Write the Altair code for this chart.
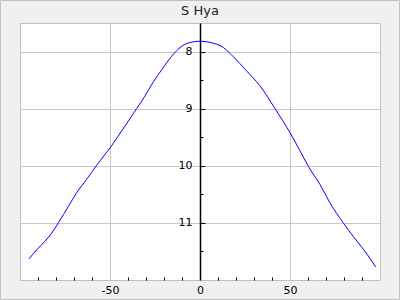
import altair as alt
import pandas as pd

# Light-curve data (phase offset vs magnitude)
phase = [-95, -90.7, -86.1, -82.4, -78.7, -73.1, -68.5, -63, -57.4, -49.6,
         -43.5, -35.2, -30.6, -25.9, -21.3, -15.7, -11.1, -6.5, 0,
         5.6, 13, 18.5, 25.9, 33.3, 41.7, 50, 55.6, 60.2, 66.7, 72.2, 79.6,
         85.2, 91.7, 97.6]
mag = [11.63, 11.47, 11.32, 11.18, 11.00, 10.71, 10.47, 10.24, 9.99, 9.67,
       9.39, 9.00, 8.78, 8.53, 8.32, 8.08, 7.93, 7.85, 7.82,
       7.84, 7.93, 8.09, 8.34, 8.60, 9.00, 9.42, 9.74, 10.01, 10.33, 10.65,
       11.00, 11.24, 11.50, 11.77]

x_major = [-50, 0, 50]
x_minor = [-90, -80, -70, -60, -40, -30, -20, -10, 10, 20, 30, 40, 60, 70, 80, 90]
y_major = [8, 9, 10, 11]
y_minor = [8.5, 9.5, 10.5, 11.5]

df = pd.DataFrame({"phase": phase, "mag": mag})

FONT = "DejaVu Sans"
GRID = "#c8c8c8"
xscale = alt.Scale(domain=[-100, 100], nice=False, zero=False)
yscale = alt.Scale(domain=[7.5, 12], reverse=True, nice=False, zero=False)

base = alt.Chart(df)

line = base.mark_line(color="#0000ff", strokeWidth=1, interpolate="monotone").encode(
    x=alt.X("phase:Q", scale=xscale, title=None,
            axis=alt.Axis(values=x_major, grid=True, gridColor=GRID, domain=False,
                          ticks=False, labelFont=FONT, labelFontSize=11,
                          labelColor="#000000", labelPadding=4, labelFlush=False,
                          labelExpr="'' + datum.value")),
    y=alt.Y("mag:Q", scale=yscale, title=None,
            axis=alt.Axis(values=y_major, grid=True, gridColor=GRID, domain=False,
                          ticks=False, labels=False)),
)

def ghost(xaxis, yaxis):
    return base.mark_line(strokeOpacity=0).encode(
        x=alt.X("phase:Q", scale=xscale, title=None, axis=xaxis),
        y=alt.Y("mag:Q", scale=yscale, title=None, axis=yaxis),
    )

ylabels = ghost(None, alt.Axis(values=y_major, orient="left", offset=-180, grid=False,
                               domain=True, domainColor="#000000", domainWidth=1.5,
                               ticks=False, labelFont=FONT, labelFontSize=11,
                               labelColor="#000000", labelPadding=8))
ymajor = ghost(None, alt.Axis(values=y_major, orient="left", offset=-185, grid=False,
                              domain=False, labels=False, tickSize=5,
                              tickColor="#000000", tickWidth=1))
yminor = ghost(None, alt.Axis(values=y_minor, orient="left", offset=-183, grid=False,
                              domain=False, labels=False, tickSize=3,
                              tickColor="#000000", tickWidth=1))
xminor = ghost(alt.Axis(values=x_minor, orient="bottom", offset=-3, grid=False,
                        domain=False, labels=False, tickSize=3,
                        tickColor="#000000", tickWidth=1), None)

frame = alt.Chart(pd.DataFrame({"k": [0]})).mark_rect(
    fill=None, stroke="#c0c0c0", strokeWidth=1, clip=False
).encode(x=alt.value(-19.5), x2=alt.value(379.5), y=alt.value(-22.5), y2=alt.value(276.5))

chart = alt.layer(line, ylabels, ymajor, yminor, xminor, frame).resolve_axis(
    x="independent", y="independent"
).properties(
    width=360, height=257,
    title=alt.TitleParams("S Hya", font=FONT, fontSize=13, fontWeight="normal",
                          color="#222222", anchor="middle", offset=7, dy=25,
                          frame="group"),
    autosize=alt.AutoSizeParams(type="none"),
    padding={"left": 20, "top": 23, "right": 20, "bottom": 20},
    background="#f0f0f0",
).configure_view(fill="#ffffff", stroke="#c0c0c0", strokeWidth=1)

chart.save("out.html", embed_options={"renderer": "svg", "actions": False})
